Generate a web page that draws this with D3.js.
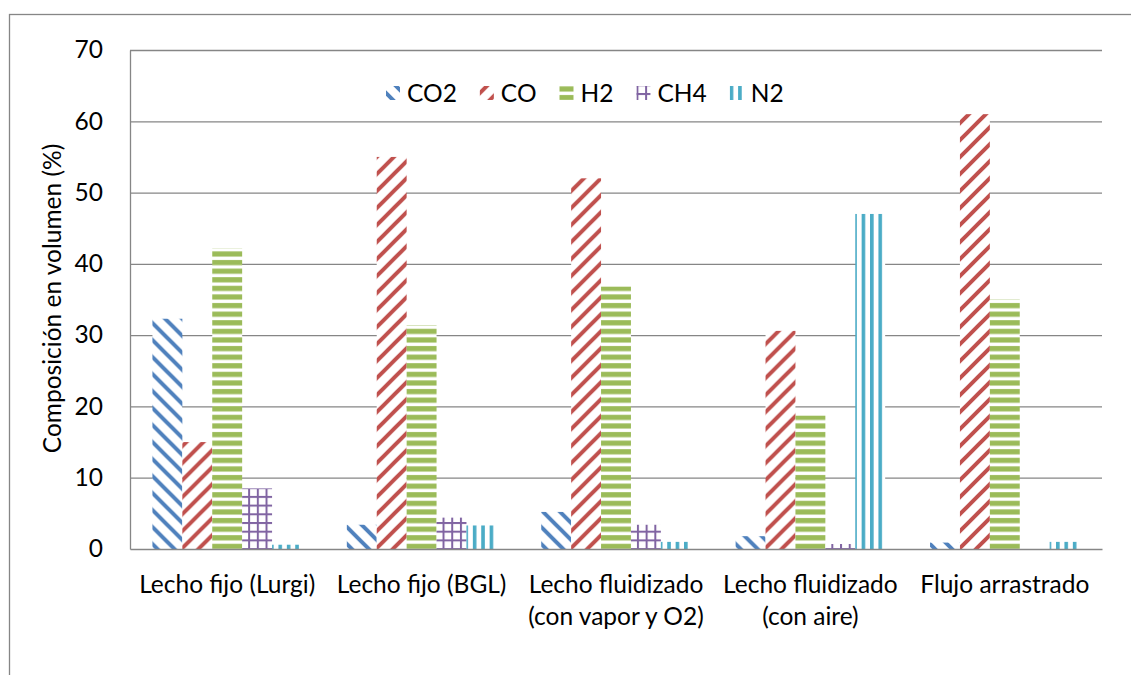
<!DOCTYPE html>
<html>
<head>
<meta charset="utf-8">
<script src="https://cdn.jsdelivr.net/npm/d3@7"></script>
<style>
  body { margin: 0; background: #fff; }
  svg { display: block; }
  text { font-family: Lato, "Open Sans", sans-serif; fill: #000; }
</style>
</head>
<body>
<svg id="chart" width="1131" height="675"></svg>
<script>
// Gas composition (% by volume) per gasifier type
const categories = [
  "Lecho fijo (Lurgi)",
  "Lecho fijo (BGL)",
  "Lecho fluidizado\n(con vapor y O2)",
  "Lecho fluidizado\n(con aire)",
  "Flujo arrastrado"
];
const seriesNames = ["CO2", "CO", "H2", "CH4", "N2"];
const co2 = [32.3, 3.4, 5.2, 1.8, 0.9];
const co  = [15, 55, 52, 30.6, 61];
const h2  = [42.2, 31.4, 36.8, 18.7, 35];
const ch4 = [8.5, 4.4, 3.4, 0.7, 0];
const n2  = [0.6, 3.3, 1, 47, 1];
const yTicks = [0, 10, 20, 30, 40, 50, 60, 70];
const yTitle = "Composición en volumen (%)";

const seriesValues = [co2, co, h2, ch4, n2];

const svg = d3.select("#chart");
const W = 1131, H = 675;
const plot = { left: 130, right: 1102, top: 50, bottom: 549 };
const FONT = 24.5;
const gridColor = "#868686";

// Chart-area frame
svg.append("rect")
  .attr("x", 9.5).attr("y", 14.5)
  .attr("width", W + 20).attr("height", H + 20)
  .attr("fill", "#fff").attr("stroke", gridColor).attr("stroke-width", 1.3);

// Fill patterns (white ground + hatch)
const defs = svg.append("defs");
function pattern(id, size, draw) {
  const p = defs.append("pattern")
    .attr("id", id)
    .attr("patternUnits", "userSpaceOnUse")
    .attr("width", size).attr("height", size);
  p.append("rect").attr("width", size).attr("height", size).attr("fill", "#fff");
  draw(p, size);
}
// CO2: wide downward diagonal
pattern("pat-CO2", 17, (p, s) => {
  p.append("path")
    .attr("d", `M0,0L${s},${s}M${-s/4},${3*s/4}L${s/4},${5*s/4}M${3*s/4},${-s/4}L${5*s/4},${s/4}`)
    .attr("stroke", "#4F81BD").attr("stroke-width", 4).attr("stroke-linecap", "square");
});
// CO: wide upward diagonal
pattern("pat-CO", 17, (p, s) => {
  p.append("path")
    .attr("d", `M0,${s}L${s},0M${-s/4},${s/4}L${s/4},${-s/4}M${3*s/4},${5*s/4}L${5*s/4},${3*s/4}`)
    .attr("stroke", "#C0504D").attr("stroke-width", 4).attr("stroke-linecap", "square");
});
// H2: horizontal stripes
pattern("pat-H2", 8.6, (p, s) => {
  p.append("rect").attr("x", 0).attr("y", 2).attr("width", s).attr("height", 5.2).attr("fill", "#9BBB59");
});
// CH4: grid
pattern("pat-CH4", 8.7, (p, s) => {
  p.append("rect").attr("x", 0).attr("y", 0).attr("width", 2).attr("height", s).attr("fill", "#8064A2");
  p.append("rect").attr("x", 0).attr("y", 0).attr("width", s).attr("height", 2).attr("fill", "#8064A2");
});
// N2: vertical stripes
pattern("pat-N2", 8.4, (p, s) => {
  p.append("rect").attr("x", 0).attr("y", 0).attr("width", 3.6).attr("height", s).attr("fill", "#4BACC6");
});

// Scales
const x = d3.scaleBand()
  .domain(categories)
  .range([plot.left, plot.right])
  .paddingInner(1.5 / 6.5)
  .paddingOuter(0.75 / 6.5);
const xs = d3.scaleBand().domain(seriesNames).range([0, x.bandwidth()]);
const y = d3.scaleLinear().domain([0, 70]).range([plot.bottom, plot.top]);

// Horizontal gridlines
svg.append("g")
  .attr("transform", `translate(${plot.left},0)`)
  .call(d3.axisLeft(y).tickValues(yTicks.filter(v => v > 0))
    .tickSize(-(plot.right - plot.left)).tickFormat(""))
  .call(g => g.select(".domain").remove())
  .call(g => g.selectAll("line").attr("stroke", gridColor).attr("stroke-width", 1.3));

// Bars
const rows = categories.map((c, i) => ({ cat: c, vals: seriesNames.map((s, j) => ({ s, v: seriesValues[j][i] })) }));
const groups = svg.append("g").selectAll("g").data(rows).join("g")
  .attr("transform", d => `translate(${x(d.cat)},0)`);
groups.selectAll("rect").data(d => d.vals.filter(e => e.v > 0)).join("rect")
  .attr("x", d => xs(d.s))
  .attr("y", d => y(d.v))
  .attr("width", xs.bandwidth())
  .attr("height", d => y(0) - y(d.v))
  .attr("fill", d => `url(#pat-${d.s})`);

// Y axis with labels
svg.append("g")
  .attr("transform", `translate(${plot.left},0)`)
  .call(d3.axisLeft(y).tickValues(yTicks).tickSize(0).tickSizeOuter(0).tickPadding(27))
  .call(g => g.select(".domain").attr("stroke", gridColor).attr("stroke-width", 1.3))
  .call(g => g.selectAll("text").attr("font-size", FONT).attr("font-family", "Lato, 'Open Sans', sans-serif"));

// X axis with wrapped category labels
const xAxis = svg.append("g")
  .attr("transform", `translate(0,${plot.bottom})`)
  .call(d3.axisBottom(x).tickSize(0).tickSizeOuter(0).tickFormat(""))
  .call(g => g.select(".domain").attr("stroke", gridColor).attr("stroke-width", 1.3));
xAxis.selectAll(".tick").each(function (d) {
  const t = d3.select(this).append("text")
    .attr("text-anchor", "middle")
    .attr("font-size", FONT)
    .attr("font-family", "Lato, 'Open Sans', sans-serif")
    .attr("fill", "#000");
  d.split("\n").forEach((line, k) => {
    t.append("tspan").attr("x", 0).attr("y", 44 + k * 32).text(line);
  });
});

// Y axis title
svg.append("text")
  .attr("transform", `translate(61,${(plot.top + plot.bottom) / 2 - 1}) rotate(-90)`)
  .attr("text-anchor", "middle")
  .attr("font-size", FONT)
  .text(yTitle);

// Legend
const legend = svg.append("g").attr("transform", "translate(386,93)");
let lx = 0;
seriesNames.forEach(s => {
  const item = legend.append("g").attr("transform", `translate(${lx},0)`);
  item.append("rect").attr("x", 0).attr("y", -7).attr("width", 14).attr("height", 14)
    .attr("fill", `url(#pat-${s})`);
  const t = item.append("text").attr("x", 21).attr("y", 8.5)
    .attr("font-size", FONT).text(s);
  lx += 21 + t.node().getComputedTextLength() + 23;
});
</script>
</body>
</html>
